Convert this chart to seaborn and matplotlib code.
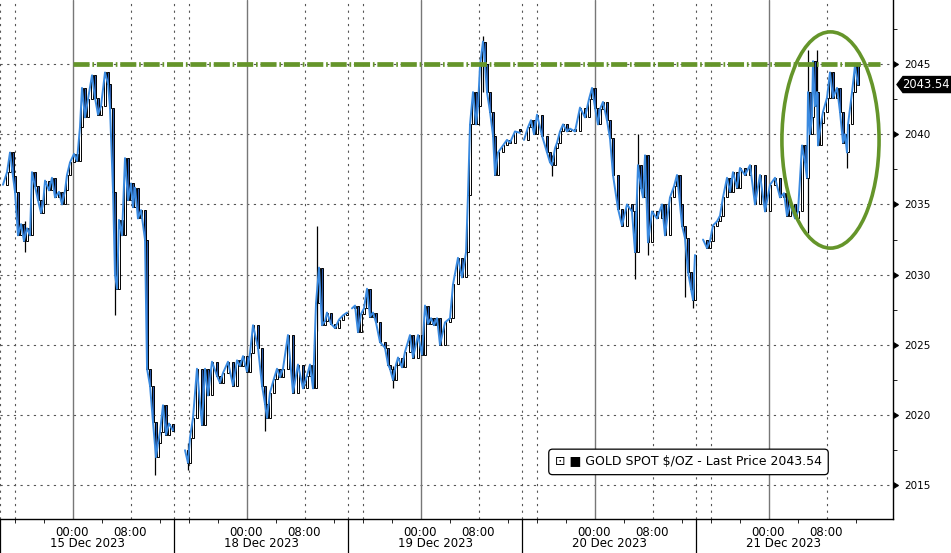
import matplotlib
matplotlib.use('Agg')
import matplotlib.pyplot as plt
from matplotlib.patches import Ellipse, Polygon
import seaborn as sns
import pandas as pd
import numpy as np

# hours counted from the start of the 15 Dec session (14:00 the day before)
d1_hours = [0.41, 0.97, 1.38, 1.79, 2.07, 2.48, 2.90, 3.31, 3.72, 4.14, 4.41, 4.83, 5.24, 5.66, 5.93,
            6.21, 6.76, 7.17, 7.59, 8.14, 8.55, 8.97, 9.24, 9.66, 10.21, 10.62, 11.03, 11.31, 11.72,
            12.14, 12.69, 13.10, 13.52, 13.93, 14.48, 14.90, 15.17, 15.59, 15.86, 16.14, 16.41, 16.83,
            17.24, 17.66, 18.07, 18.34, 18.62, 19.03, 19.45, 20.00, 20.28, 20.69, 21.10, 21.52, 21.79,
            22.07, 22.48, 22.90, 23.31, 23.86]
d1_price = [2036.4, 2037.3, 2038.7, 2037.0, 2035.9, 2032.8, 2033.6, 2032.4, 2033.3, 2032.8, 2037.3,
            2036.3, 2035.3, 2034.4, 2035.0, 2036.7, 2036.0, 2036.9, 2035.5, 2035.9, 2035.0, 2036.0,
            2037.1, 2038.0, 2038.6, 2038.1, 2040.5, 2043.3, 2041.2, 2042.5, 2044.2, 2042.6, 2041.4,
            2042.0, 2044.4, 2043.6, 2041.9, 2035.9, 2030.0, 2029.0, 2033.9, 2032.8, 2038.3, 2035.3,
            2036.5, 2034.8, 2036.2, 2034.0, 2034.6, 2032.5, 2023.3, 2022.1, 2019.5, 2017.0, 2018.0,
            2018.8, 2020.7, 2018.6, 2019.4, 2018.9]

d2_hours = [25.52, 25.93, 26.21, 26.62, 27.17, 27.86, 28.28, 28.69, 29.24, 29.93, 30.34, 30.76, 31.45,
            32.14, 32.69, 33.10, 33.52, 34.07, 34.48, 34.90, 35.59, 36.14, 36.55, 36.83, 37.24, 37.79,
            38.21, 38.62, 39.03, 39.72, 40.41, 41.10, 41.79, 42.34, 42.76, 43.17, 43.59, 44.00, 44.41,
            44.83, 45.10, 45.66, 46.21, 46.76, 47.31, 47.86]
d2_price = [2017.5, 2016.6, 2018.4, 2019.8, 2023.3, 2019.3, 2023.3, 2021.4, 2023.8, 2022.8, 2022.3,
            2023.0, 2023.8, 2022.1, 2023.9, 2023.5, 2024.2, 2023.1, 2024.4, 2026.4, 2024.8, 2022.1,
            2020.8, 2019.8, 2021.6, 2022.6, 2023.3, 2022.7, 2023.3, 2025.7, 2021.6, 2023.6, 2021.9,
            2022.8, 2023.6, 2021.9, 2028.0, 2030.5, 2026.4, 2026.7, 2027.3, 2026.5, 2026.2, 2026.8,
            2027.1, 2027.3]

d3_hours = [48.55, 48.97, 49.38, 49.79, 50.21, 50.62, 51.03, 51.45, 51.86, 52.41, 53.10, 53.52, 53.79,
            54.21, 54.62, 54.90, 55.45, 55.86, 56.55, 56.97, 57.66, 58.21, 58.62, 59.03, 59.45, 59.86,
            60.28, 60.69, 61.38, 62.07, 62.48, 63.17, 63.72, 64.28, 64.55, 64.83, 65.24, 65.66, 65.93,
            66.21, 66.62, 66.90, 67.17, 67.59, 68.00, 68.28, 68.69, 69.38, 69.93, 70.34, 71.03, 71.72]
d3_price = [2027.6, 2027.8, 2025.9, 2027.2, 2027.6, 2029.0, 2027.0, 2027.3, 2026.6, 2025.2, 2024.8,
            2023.6, 2023.3, 2022.5, 2023.6, 2024.1, 2023.4, 2024.5, 2025.7, 2024.1, 2025.7, 2024.3,
            2027.8, 2026.5, 2026.9, 2026.4, 2026.9, 2025.0, 2026.6, 2026.9, 2029.3, 2031.2, 2029.8,
            2031.6, 2035.7, 2040.7, 2043.0, 2040.7, 2042.0, 2044.9, 2046.6, 2045.0, 2043.0, 2041.6,
            2039.9, 2037.1, 2038.7, 2039.2, 2039.6, 2039.4, 2040.2, 2040.1]

d4_hours = [72.28, 72.83, 73.24, 73.66, 74.07, 74.76, 75.45, 75.86, 76.14, 76.55, 76.83, 77.24, 77.66,
            78.21, 78.62, 79.31, 80.00, 80.69, 81.24, 81.66, 82.07, 82.48, 82.76, 83.17, 83.72, 84.14,
            84.55, 85.24, 85.79, 86.48, 87.17, 87.59, 88.00, 88.41, 88.69, 88.97, 89.38, 89.93, 90.62,
            91.31, 91.72, 92.41, 92.97, 93.38, 93.79, 94.07, 94.48, 94.90, 95.31, 95.59, 95.86]
d4_price = [2039.6, 2040.5, 2041.0, 2040.0, 2041.4, 2039.9, 2038.7, 2038.0, 2037.8, 2039.0, 2039.4,
            2040.2, 2040.7, 2040.2, 2040.4, 2040.2, 2041.9, 2041.2, 2042.5, 2043.3, 2041.9, 2040.7,
            2041.8, 2042.3, 2041.0, 2039.7, 2037.1, 2034.7, 2033.5, 2035.0, 2034.5, 2031.6, 2037.8,
            2036.2, 2035.5, 2038.5, 2032.3, 2034.5, 2034.0, 2035.0, 2032.8, 2035.5, 2036.3, 2037.1,
            2035.0, 2033.5, 2032.6, 2030.2, 2029.0, 2028.2, 2031.4]

d5_hours = [96.97, 97.52, 97.93, 98.34, 98.90, 99.31, 99.72, 100.28, 100.69, 101.10, 101.66, 102.07,
            102.76, 103.45, 104.14, 104.83, 105.52, 106.21, 106.90, 107.59, 108.14, 108.55, 108.97,
            109.66, 110.07, 110.62, 111.03, 111.31, 111.45, 111.72, 112.00, 112.14, 112.41, 112.69,
            112.83, 113.24, 113.52, 114.07, 114.48, 114.90, 115.45, 115.86, 116.28, 116.55, 116.83,
            116.97, 117.52, 117.93, 118.34]
d5_price = [2032.5, 2031.9, 2032.4, 2033.5, 2033.8, 2034.2, 2035.5, 2036.9, 2035.9, 2037.3, 2036.2,
            2037.6, 2037.1, 2037.8, 2035.0, 2037.1, 2034.5, 2036.4, 2036.9, 2035.5, 2035.8, 2034.2,
            2035.0, 2034.0, 2034.5, 2039.2, 2038.0, 2036.9, 2043.0, 2040.0, 2041.2, 2045.2, 2042.0,
            2043.0, 2039.2, 2040.8, 2041.6, 2042.6, 2044.4, 2042.6, 2043.3, 2041.6, 2039.4, 2040.0,
            2038.7, 2040.7, 2043.0, 2044.9, 2043.54]

# visible wick extremes
wick_hours = [3.4, 15.86, 21.4, 25.93, 36.6, 43.7, 54.2, 66.6, 76.1, 87.6, 88.0, 89.4, 94.5, 95.6,
              111.5, 112.7, 116.8]
wick_low = [2031.6, 2027.1, 2015.7, 2016.1, 2018.9, 2026.0, 2021.9, 2043.0, 2037.0, 2029.7, 2035.0,
            2031.4, 2028.4, 2027.6, 2033.0, 2040.0, 2037.6]
wick_high = [2033.8, 2033.0, 2019.5, 2018.0, 2021.0, 2033.5, 2023.5, 2047.0, 2038.5, 2033.0, 2040.0,
             2036.0, 2033.0, 2029.5, 2046.0, 2046.0, 2040.0]

session_labels = ['15 Dec 2023', '18 Dec 2023', '19 Dec 2023', '20 Dec 2023', '21 Dec 2023']
last_price = 2043.54
resistance = 2045

BLUE = '#3a8ae0'
NAVY = '#2a58a8'
GREEN = '#65952a'

sns.set_style('white')
plt.rcParams['font.family'] = ['DejaVu Sans']

fig = plt.figure(figsize=(9.51, 5.53), dpi=100)
ax = fig.add_axes([0, 34 / 553, 893 / 951, 519 / 553])

x_max = 893 / 7.25
ax.set_xlim(0, x_max)
ax.set_ylim(2012.6, 2049.56)

# grid
for y in range(2015, 2050, 5):
    ax.axhline(y, color='#555555', lw=0.8, ls=(0, (2, 4)), zorder=0)
for h in [0, 2, 18, 24, 26, 42, 48, 50, 66, 72, 74, 90, 96, 98, 114]:
    ax.axvline(h, color='#555555', lw=0.8, ls=(0, (2, 4)), zorder=0)
for h in [10, 34, 58, 82, 106]:
    ax.axvline(h, color='#777777', lw=1.0, zorder=0)

sessions = [(d1_hours, d1_price), (d2_hours, d2_price), (d3_hours, d3_price),
            (d4_hours, d4_price), (d5_hours, d5_price)]

ax.vlines(wick_hours, wick_low, wick_high, color='black', lw=0.9, zorder=1.5)

for hours, price in sessions:
    hrs = np.array(hours)
    px = np.array(price)
    opens = px[:-1]
    closes = px[1:]
    body = closes - opens
    body = np.where(np.abs(body) < 0.15, 0.15, body)
    fills = [NAVY if c < o else 'white' for o, c in zip(opens, closes)]
    ax.bar(hrs[1:], body, bottom=opens, width=0.32, color=fills, edgecolor='black',
           linewidth=0.7, zorder=2)
    df = pd.DataFrame({'hours': hrs, 'price': px})
    sns.lineplot(data=df, x='hours', y='price', sort=False, estimator=None, color=BLUE,
                 lw=1.4, ax=ax, legend=False, zorder=3)

# resistance line and highlight
ax.plot([10, 121.4], [resistance, resistance], color=GREEN, lw=3.4,
        ls=(0, (3.4, 0.6, 0.35, 0.6)), zorder=4, solid_capstyle='butt')
ax.add_patch(Ellipse((114.55, 2039.59), width=13.4, height=15.4, fill=False,
                     edgecolor=GREEN, lw=2.6, zorder=5))

# axes styling
ax.set_xlabel('')
ax.set_ylabel('')
for s in ['top', 'left']:
    ax.spines[s].set_visible(False)
for s in ['bottom', 'right']:
    ax.spines[s].set_color('black')
    ax.spines[s].set_linewidth(1.0)

ax.yaxis.tick_right()
ax.set_yticks(range(2015, 2050, 5))
ax.set_yticks(np.arange(2017.5, 2049, 5), minor=True)
ax.tick_params(axis='y', which='major', labelsize=7.5, length=5, pad=3, colors='black')
ax.tick_params(axis='y', which='minor', length=3, right=True, colors='black')
for t in ax.yaxis.get_major_ticks():
    t.tick2line.set_marker(9)
    t.tick2line.set_markersize(5)

major_x = [10, 18, 34, 42, 58, 66, 82, 90, 106, 114]
ax.set_xticks(major_x)
ax.set_xticklabels(['00:00', '08:00'] * 5)
ax.set_xticks(np.arange(2, 122, 4), minor=True)
ax.tick_params(axis='x', which='major', labelsize=8.5, length=3, pad=2, colors='black')
ax.tick_params(axis='x', which='minor', length=3, bottom=True, colors='black')

xtrans = ax.get_xaxis_transform()
for i, lab in enumerate(session_labels):
    ax.text(12 + 24 * i, -0.048, lab, transform=xtrans, ha='center', va='center',
            fontsize=8.5, color='black')
for h in [0, 24, 48, 72, 96]:
    ax.plot([h, h], [0, -0.07], transform=xtrans, color='black', lw=0.9, clip_on=False)

# last price tag (drawn in display pixels next to the right axis)
x0, y0 = ax.transData.transform((x_max, last_price))
tag = Polygon([(x0 + 4, y0), (x0 + 10, y0 + 8), (x0 + 60, y0 + 8), (x0 + 60, y0 - 8),
               (x0 + 10, y0 - 8)], closed=True, transform=None, fc='black', ec='black',
              clip_on=False)
fig.patches.append(tag)
fig.text(x0 + 33, y0, f'{last_price:.2f}', transform=None, ha='center', va='center',
         fontsize=8.3, color='white')

# legend box
ax.text(0.771, 0.110, '\u22a1 \u25a0 GOLD SPOT $/OZ - Last Price 2043.54', transform=ax.transAxes,
        ha='center', va='center', fontsize=9, color='black', zorder=6,
        bbox=dict(boxstyle='round,pad=0.5,rounding_size=0.3', fc='white', ec='black', lw=0.9))

fig.savefig('out.png', dpi=100)
